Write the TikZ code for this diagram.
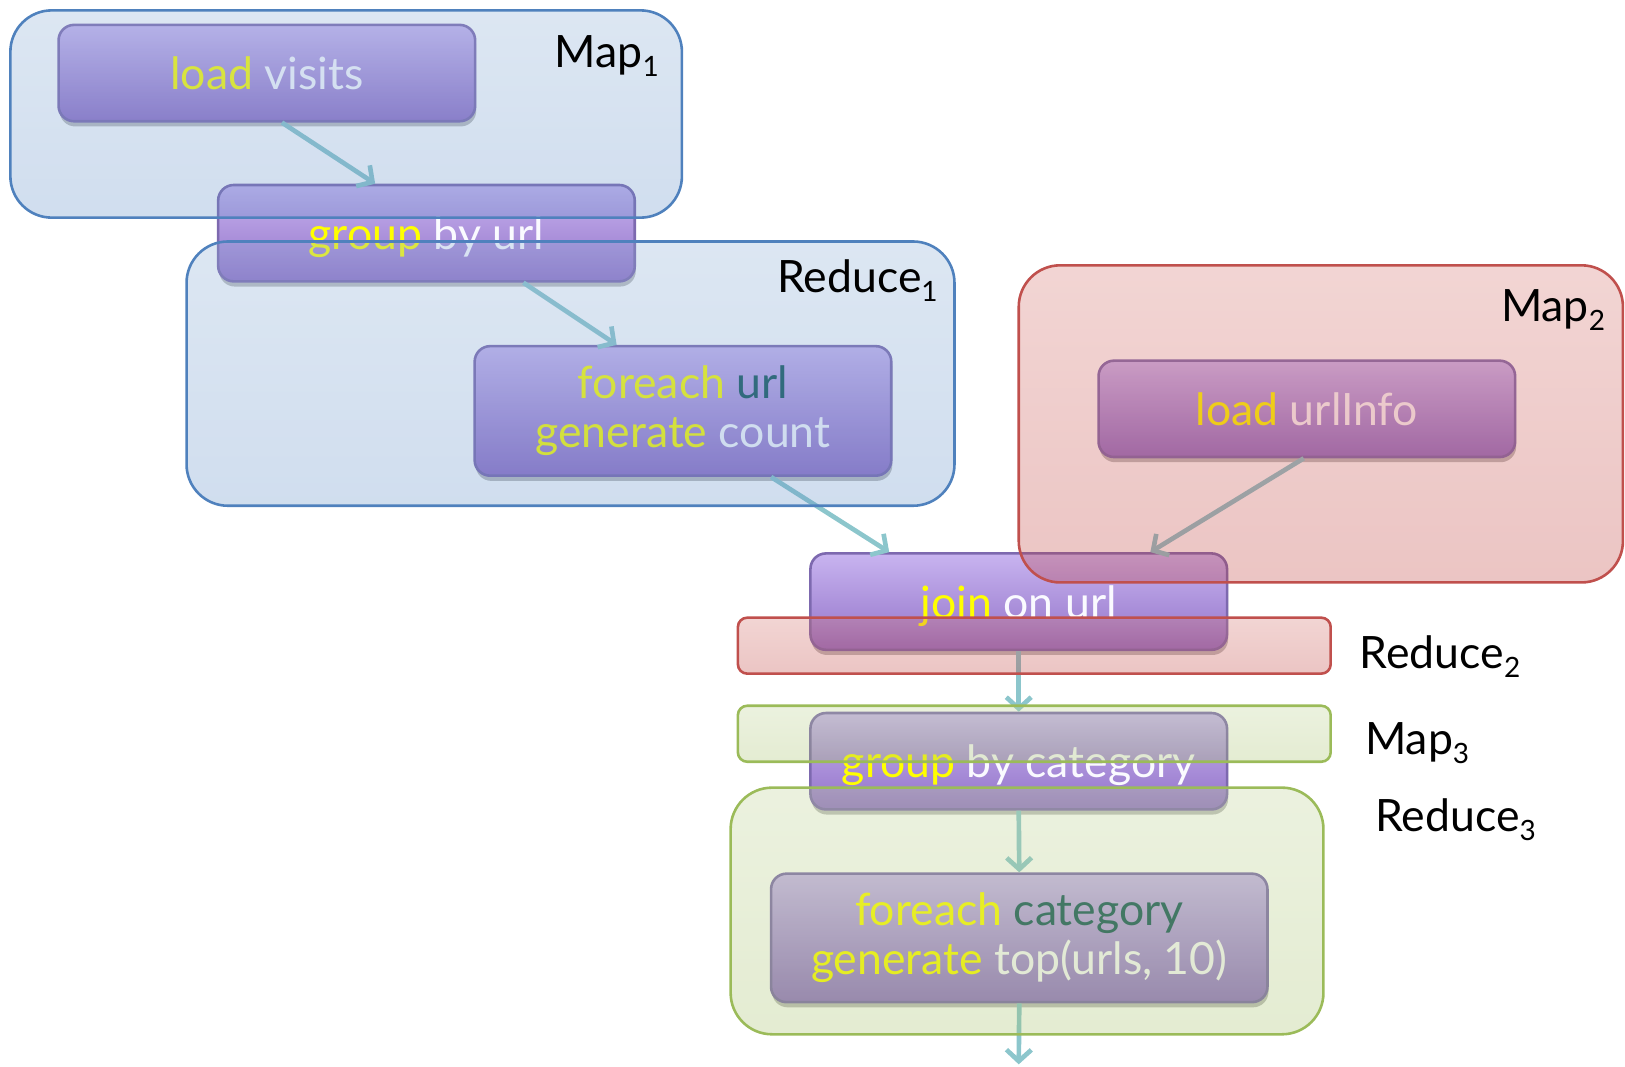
\documentclass[tikz,border=0pt]{standalone}
\usepackage{fontspec}
\setmainfont{Lato}
\usetikzlibrary{arrows.meta,calc,shadows}
\definecolor{kw}{RGB}{255,255,0}
\definecolor{lt}{RGB}{250,250,255}
\definecolor{dk}{RGB}{20,85,90}
\definecolor{ntop}{RGB}{200,180,240}
\definecolor{nbot}{RGB}{146,114,200}
\definecolor{ndraw}{RGB}{125,105,175}
\definecolor{arr}{RGB}{140,198,204}
\definecolor{btop}{RGB}{140,174,214}
\definecolor{bbot}{RGB}{100,145,200}
\definecolor{bdraw}{RGB}{79,129,189}
\definecolor{rtop}{RGB}{212,115,110}
\definecolor{rbot}{RGB}{190,62,58}
\definecolor{rdraw}{RGB}{192,80,77}
\definecolor{gtop}{RGB}{190,210,148}
\definecolor{gbot}{RGB}{165,192,105}
\definecolor{gdraw}{RGB}{155,187,89}
\newcommand\lsub[1]{\raisebox{-9pt}{\fontsize{27}{27}\selectfont #1}}
\tikzset{
  opbox/.style={rectangle, rounded corners=15pt, draw=ndraw, line width=2.5pt,
    top color=ntop, bottom color=nbot, inner sep=0pt, align=center,
    minimum width=402pt, minimum height=93pt,
    font=\fontsize{43}{47}\selectfont, text=lt,
    drop shadow={shadow xshift=1pt, shadow yshift=-5pt, opacity=0.25, fill=black}},
  lowtext/.style={text depth=0pt},
  contbox/.style={rectangle, inner sep=0pt, outer sep=0pt, line width=2.5pt,
    fill opacity=0.3, draw opacity=1},
  bluebox/.style={contbox, rounded corners=40pt, draw=bdraw, top color=btop, bottom color=bbot},
  redbox/.style={contbox, rounded corners=40pt, draw=rdraw, top color=rtop, bottom color=rbot},
  redthin/.style={contbox, rounded corners=9pt, draw=rdraw, top color=rtop, bottom color=rbot},
  greenbox/.style={contbox, rounded corners=40pt, draw=gdraw, top color=gtop, bottom color=gbot},
  greenthin/.style={contbox, rounded corners=9pt, draw=gdraw, top color=gtop, bottom color=gbot},
  flow/.style={draw=arr, line width=4.5pt, -{Straight Barb[length=11pt,width=24pt]}},
  lbl/.style={inner sep=0pt, font=\fontsize{43}{50}\selectfont, text=black}
}
\begin{document}
\begin{tikzpicture}[x=1pt,y=-1pt]
\useasboundingbox (0,0) rectangle (1568,1029);
% operation boxes
\node[opbox] (lv) at (257.5,70.5) {\textcolor{kw}{load} visits};
\node[opbox, lowtext] (gu) at (411.5,225) {\textcolor{kw}{group} by url};
\node[opbox, minimum height=125pt] (fu) at (659,396.5) {\textcolor{kw}{foreach} \textcolor{dk}{url}\\\textcolor{kw}{generate} count};
\node[opbox] (lu) at (1261,394.5) {\textcolor{kw}{load} urlInfo};
\node[opbox, lowtext] (jn) at (983,580.5) {\textcolor{kw}{join} on url};
\node[opbox, lowtext] (gc) at (983,734.5) {\textcolor{kw}{group} by category};
\node[opbox, minimum width=479pt, minimum height=124pt] (fc) at (983.5,905) {\textcolor{kw}{foreach} \textcolor{dk}{category}\\\textcolor{kw}{generate} top(urls, 10)};
\coordinate (out) at (983,1027);
% connectors
\draw[flow] ($(lv.south)+(14.5,0)$) -- ($(gu.north)+(-49.5,0)$);
\draw[flow] ($(gu.south)+(93.5,0)$) -- ($(fu.north)+(-64,0)$);
\draw[flow] ($(fu.south)+(85,0)$) -- ($(jn.north)+(-125,0)$);
\draw[flow] ($(lu.south)+(-3,0)$) -- ($(jn.north)+(127,0)$);
\draw[flow] (jn.south) -- (gc.north);
\draw[flow] (gc.south) -- (fc.north);
\draw[flow] (fc.south) -- (out);
% containers
\node[bluebox, minimum width=648pt, minimum height=200pt] (m1) at (334,110) {};
\node[bluebox, minimum width=741pt, minimum height=255pt] (r1) at (550.5,360.5) {};
\node[redbox, minimum width=583pt, minimum height=306pt] (m2) at (1274.5,409) {};
\node[redthin, minimum width=572pt, minimum height=54pt] (r2) at (998,623) {};
\node[greenthin, minimum width=572pt, minimum height=54pt] (m3) at (998,708) {};
\node[greenbox, minimum width=572pt, minimum height=238pt] (r3) at (991,879) {};
% labels
\node[lbl, anchor=base east] (l1) at (636,65) {Map\lsub{1}};
\node[lbl, anchor=base east] (l2) at (905,282) {Reduce\lsub{1}};
\node[lbl, anchor=base east] (l3) at (1549,310) {Map\lsub{2}};
\node[lbl, anchor=base west] (l4) at (1312,645) {Reduce\lsub{2}};
\node[lbl, anchor=base west] (l5) at (1317,728) {Map\lsub{3}};
\node[lbl, anchor=base west] (l6) at (1327,802) {Reduce\lsub{3}};
\end{tikzpicture}
\end{document}
